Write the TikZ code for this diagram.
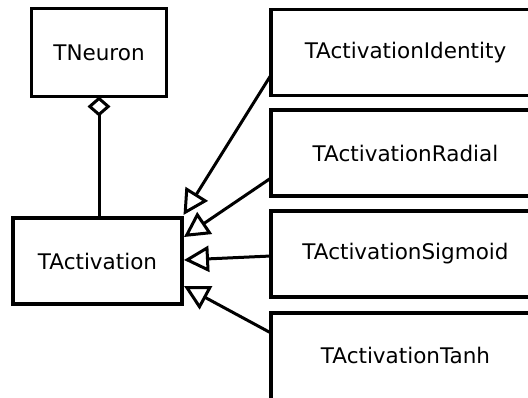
\documentclass[tikz,border=0pt]{standalone}
\usepackage{fontspec}
\setmainfont{DejaVu Sans}
\usetikzlibrary{arrows.meta,calc}
\tikzset{
  cls/.style={draw, line width=3.3pt, outer sep=0pt, inner sep=0pt,
    font=\fontsize{21.5}{25}\selectfont, fill=white},
  sub/.style={cls, minimum width=269pt, minimum height=86pt},
  lbl/.style={font=\fontsize{21.5}{25}\selectfont, inner sep=0pt},
  gen/.style={line width=3pt, -{Triangle[open, length=25pt, width=26pt, line width=3pt]}},
  agg/.style={line width=3pt, -{Diamond[open, length=20pt, width=23pt, line width=3pt]}}
}
\begin{document}
\begin{tikzpicture}[x=1pt,y=-1pt]
\useasboundingbox (0,0) rectangle (528,398);
\begin{scope}
\clip (0,0) rectangle (528,398);
% classes
\node[cls, minimum width=135pt, minimum height=88pt] (neuron) at (99,52.5) {TNeuron};
\node[cls, minimum width=169pt, minimum height=86pt] (act) at (97.5,261) {TActivation};
\node[sub] (ident)   at (405.5,52.5) {TActivationIdentity};
\node[sub] (radial)  at (405.5,153)  {TActivationRadial};
\node[sub] (sigmoid) at (405.5,254)  {TActivationSigmoid};
\node[sub, minimum height=100pt] (tanh) at (405.5,363) {};
\node[lbl] (tanhlabel) at (405.5,355) {TActivationTanh};
% aggregation
\draw[agg] (act.north -| neuron.south) -- (neuron.south);
% generalisations
\draw[gen] ($(ident.west)+(0,22.5)$)  -- ($(act.east)+(1.5,-46)$);
\draw[gen] ($(radial.west)+(0,25)$)   -- ($(act.east)+(2,-24)$);
\draw[gen] ($(sigmoid.west)+(0,2)$)   -- ($(act.east)+(2,-1)$);
\draw[gen] ($(tanh.west)+(0,-30)$)    -- ($(act.east)+(2,25)$);
\end{scope}
\end{tikzpicture}
\end{document}
